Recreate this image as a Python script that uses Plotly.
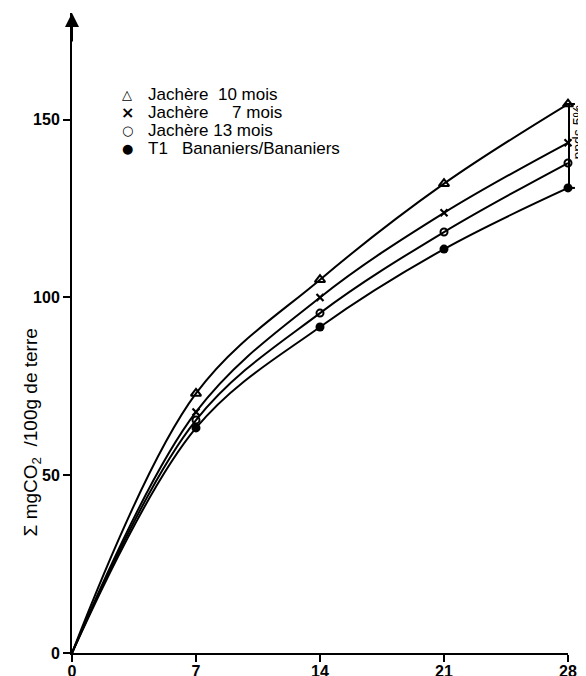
import plotly.graph_objects as go

days = [0, 7, 14, 21, 28]
jachere10 = [0, 73, 105, 132, 154.4]
jachere7 = [0, 67.8, 100, 123.8, 143.5]
jachere13 = [0, 65.5, 95.6, 118.4, 137.8]
t1_bananiers = [0, 63.3, 91.7, 113.6, 130.8]

legend_labels = [
    "Jachère\u00a0\u00a010\u00a0mois",
    "Jachère\u00a0\u00a0\u00a0\u00a0\u00a07\u00a0mois",
    "Jachère\u00a013\u00a0mois",
    "T1\u00a0\u00a0\u00a0Bananiers/Bananiers",
]
legend_glyphs = ["△", "×", "○", "●"]
ticks_x = [0, 7, 14, 21, 28]
ticks_y = [0, 50, 100, 150]

markers = [
    dict(symbol="triangle-up-open", size=9, color="black", line=dict(width=2, color="black")),
    dict(symbol="x-thin", size=7, color="black", line=dict(width=2.2, color="black")),
    dict(symbol="circle-open", size=7, color="black", line=dict(width=2, color="black")),
    dict(symbol="circle", size=9, color="black", line=dict(width=0)),
]
values = [jachere10, jachere7, jachere13, t1_bananiers]

fig = go.Figure()
for ys, mk, name in zip(values, markers, legend_labels):
    fig.add_trace(go.Scatter(
        x=days, y=ys, mode="lines", line=dict(color="black", width=2, shape="spline", smoothing=1.0),
        showlegend=False, cliponaxis=False, name=name))
    fig.add_trace(go.Scatter(
        x=days[1:], y=ys[1:], mode="markers", marker=mk, showlegend=False, cliponaxis=False, name=name))

# legend drawn as text rows
row_y = [0.872, 0.844, 0.817, 0.789]
for glyph, label, yy in zip(legend_glyphs, legend_labels, row_y):
    fig.add_annotation(text=glyph, xref="paper", yref="paper", x=0.111, y=yy, showarrow=False,
                       xanchor="center", yanchor="middle",
                       font=dict(size=13 if glyph != "×" else 16, color="black", family="DejaVu Sans",
                                 weight="bold"))
    fig.add_annotation(text=label, xref="paper", yref="paper", x=0.150, y=yy, showarrow=False,
                       xanchor="left", yanchor="middle",
                       font=dict(size=17, color="black", family="Liberation Sans"))

# ppds 5% bar between highest and lowest final values
y_top = jachere10[-1]
y_bot = t1_bananiers[-1]
fig.add_shape(type="line", xref="paper", yref="y", x0=1.002, x1=1.002, y0=y_bot, y1=y_top,
              line=dict(color="black", width=2))
for yy in (y_top, y_bot):
    fig.add_shape(type="line", xref="paper", yref="y", x0=0.992, x1=1.014, y0=yy, y1=yy,
                  line=dict(color="black", width=2))
fig.add_annotation(text="ppds\u00a05%", xref="paper", yref="y", x=1.021, y=146.5,
                   textangle=-90, showarrow=False, font=dict(size=14, color="black", family="Liberation Sans"),
                   xanchor="center", yanchor="middle")

# y axis arrow
fig.add_annotation(x=0, y=180, xref="x", yref="y", ax=0, ay=30, axref="pixel", ayref="pixel",
                   showarrow=True, arrowhead=2, arrowsize=1.4, arrowwidth=2, arrowcolor="black", text="")

# y axis title
fig.add_annotation(text="Σ\u00a0mgCO<sub>2</sub>\u00a0\u00a0/100g de terre", xref="paper", yref="y",
                   x=-0.081, y=62, textangle=-90, showarrow=False,
                   font=dict(size=19, color="black", family="Liberation Sans"),
                   xanchor="center", yanchor="middle")

fig.update_layout(
    width=578, height=668,
    margin=dict(l=64, r=18, t=5, b=23),
    paper_bgcolor="white", plot_bgcolor="white",
    font=dict(family="Liberation Sans", color="black"),
    showlegend=False,
    xaxis=dict(range=[0, 28], tickvals=ticks_x, showgrid=False, zeroline=False, automargin=False,
               showline=True, linecolor="black", linewidth=2, ticks="outside", ticklen=7, tickwidth=2,
               tickcolor="black", tickfont=dict(size=16, weight="bold"), ticklabelstandoff=-4),
    yaxis=dict(range=[0, 180], tickvals=ticks_y, showgrid=False, zeroline=False, automargin=False,
               showline=True, linecolor="black", linewidth=2, ticks="outside", ticklen=7, tickwidth=2,
               tickcolor="black", tickfont=dict(size=16, weight="bold")),
)

fig.write_html("out.html")
